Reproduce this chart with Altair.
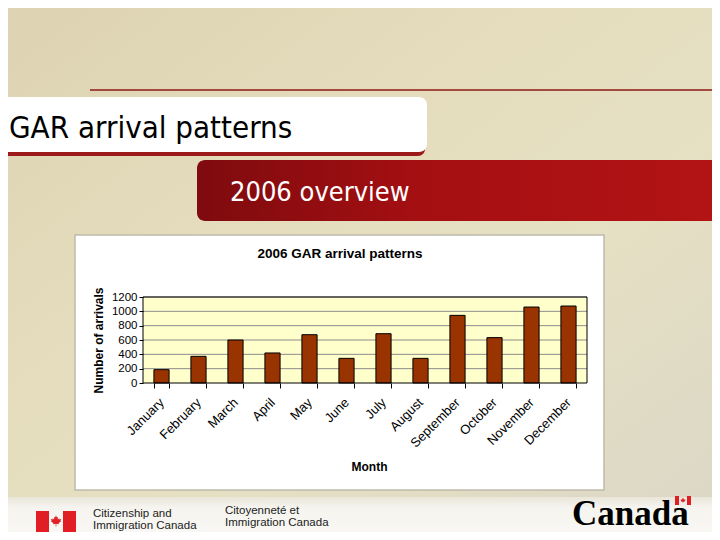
import altair as alt
import pandas as pd

months = ["January", "February", "March", "April", "May", "June", "July",
          "August", "September", "October", "November", "December"]
arrivals = [186, 372, 600, 419, 674, 344, 688, 344, 944, 633, 1060, 1074]
y_ticks = [0, 200, 400, 600, 800, 1000, 1200]

slide_title = "GAR arrival patterns"
slide_subtitle = "2006 overview"
chart_title = "2006 GAR arrival patterns"
y_title = "Number of arrivals"
x_title = "Month"
footer_en = ["Citizenship and", "Immigration Canada"]
footer_fr = ["Citoyenneté et", "Immigration Canada"]
wordmark = "Canada"

df = pd.DataFrame({"Month": months, "Arrivals": arrivals})
grid_df = pd.DataFrame({"Arrivals": y_ticks[1:]})
one = pd.DataFrame({"a": [0]})

W, H = 444, 86
SANS = "Liberation Sans, Arial, sans-serif"
NARROW = "Liberation Sans Narrow, Liberation Sans, Arial, sans-serif"
TAHOMA = "DejaVu Sans Condensed, DejaVu Sans, sans-serif"


def box(x, x2, y, y2, **kw):
    return alt.Chart(one).mark_rect(**kw).encode(
        x=alt.value(x), x2=alt.value(x2), y=alt.value(y), y2=alt.value(y2))


def label(txt, x, y, **kw):
    return alt.Chart(one).mark_text(text=txt, **kw).encode(
        x=alt.value(x), y=alt.value(y))


bg_grad = alt.LinearGradient(
    gradient="linear", x1=0, y1=0, x2=1, y2=1,
    stops=[alt.GradientStop(color="#DDD3B2", offset=0),
           alt.GradientStop(color="#E4DCBC", offset=0.35),
           alt.GradientStop(color="#E6E0C3", offset=0.6),
           alt.GradientStop(color="#DCD7C6", offset=1)])
red_grad = alt.LinearGradient(
    gradient="linear", x1=0, y1=0, x2=1, y2=0,
    stops=[alt.GradientStop(color="#7E0B0E", offset=0),
           alt.GradientStop(color="#A50F12", offset=0.4),
           alt.GradientStop(color="#B51414", offset=1)])
foot_grad = alt.LinearGradient(
    gradient="linear", x1=0, y1=0, x2=0, y2=1,
    stops=[alt.GradientStop(color="#E9E5D8", offset=0),
           alt.GradientStop(color="#F5F4EF", offset=0.3),
           alt.GradientStop(color="#F8F7F3", offset=1)])

background = box(-135, 569, -289, 235, color=bg_grad)
footer_strip = box(-135, 569, 200, 235, color=foot_grad)
top_line = alt.Chart(one).mark_rule(color="#8E1A16", strokeWidth=1.5).encode(
    x=alt.value(-53), x2=alt.value(569), y=alt.value(-207))
header_shadow = box(-160, 282, -197, -141, color="#9C1A1A", cornerRadius=7)
header_box = box(-160, 284, -200, -145, color="#FFFFFF", cornerRadius=8)
header_text = label(slide_title, -134, -159, align="left", baseline="alphabetic",
                    font=TAHOMA, fontSize=31, color="#000000")
banner = box(54, 620, -137, -76, color=red_grad, cornerRadius=8)
banner_text = label(slide_subtitle, 87, -96, align="left", baseline="alphabetic",
                    font=TAHOMA, fontSize=27, color="#FFFFFF")

panel = box(-68, 461, -62, 193, color="#FFFFFF", stroke="#BFBBAA", strokeWidth=1.5)
title_text = label(chart_title, 197, -43, align="center", baseline="middle",
                   font=SANS, fontSize=13.5, fontWeight="bold", color="#000000")
plot_bg = box(0, W, 0, H, color="#FFFFCC")

y_scale = alt.Scale(domain=[0, 1200], nice=False, zero=True)
y_axis = alt.Axis(title=y_title, values=y_ticks, format="d", grid=False,
                  domain=False, labelOverlap=False, labelFlush=False,
                  labelBound=False,
                  tickSize=4, tickColor="#000000", labelPadding=2,
                  labelFont=SANS, labelFontSize=11.5, labelColor="#000000",
                  labelBaseline="middle",
                  zindex=1, titleFont=SANS, titleFontSize=12,
                  titleFontWeight="bold", titleColor="#000000",
                  titleX=-45, titleY=43, titleAngle=270,
                  titleBaseline="middle", titleAlign="center")

grid = alt.Chart(grid_df).mark_rule(color="#8C8C8C", strokeWidth=1).encode(
    y=alt.Y("Arrivals:Q", scale=y_scale, axis=y_axis),
    x=alt.value(0), x2=alt.value(W))

bars = alt.Chart(df).mark_bar(color="#993300", stroke="#000000", strokeWidth=1).encode(
    x=alt.X("Month:N", sort=months,
            scale=alt.Scale(paddingInner=0.59, paddingOuter=0.295),
            axis=alt.Axis(title=x_title, labelAngle=315, labelAlign="right",
                          labelBaseline="middle", labelPadding=12,
                          labelFont=SANS, labelFontSize=13, labelColor="#000000",
                          labelOverlap=False,
                          tickBand="extent", tickSize=5, tickColor="#000000",
                          domain=False, zindex=1,
                          titleFont=SANS, titleFontSize=12, titleFontWeight="bold",
                          titleColor="#000000", titleX=226, titleY=83,
                          titleBaseline="middle", titleAlign="center")),
    y=alt.Y("Arrivals:Q", scale=y_scale, axis=y_axis),
)
frame = box(0, W, 0, H, fillOpacity=0, fill="#FFFFFF", stroke="#000000", strokeWidth=1)

# footer: flag
leaf = ("M0,-1 L0.15,-0.62 L0.35,-0.72 L0.3,-0.25 L0.6,-0.5 L0.58,-0.28 L0.92,-0.35 "
        "L0.78,-0.05 L0.88,0.05 L0.45,0.38 L0.52,0.55 L0.06,0.48 L0.06,0.95 L-0.06,0.95 "
        "L-0.06,0.48 L-0.52,0.55 L-0.45,0.38 L-0.88,0.05 L-0.78,-0.05 L-0.92,-0.35 "
        "L-0.58,-0.28 L-0.6,-0.5 L-0.3,-0.25 L-0.35,-0.72 L-0.15,-0.62 Z")
flag_l = box(-107, -94, 214, 235, color="#E01E24")
flag_r = box(-80, -67, 214, 235, color="#E01E24")
flag_leaf = alt.Chart(one).mark_point(shape=leaf, filled=True, color="#E01E24",
                                      size=130, opacity=1).encode(
    x=alt.value(-87), y=alt.value(224))

f1 = label(footer_en[0], -50, 220, align="left", baseline="alphabetic",
           font=NARROW, fontSize=11.5, color="#222222")
f2 = label(footer_en[1], -50, 232, align="left", baseline="alphabetic",
           font=NARROW, fontSize=11.5, color="#222222")
f3 = label(footer_fr[0], 82, 217, align="left", baseline="alphabetic",
           font=NARROW, fontSize=11.5, color="#222222")
f4 = label(footer_fr[1], 82, 229, align="left", baseline="alphabetic",
           font=NARROW, fontSize=11.5, color="#222222")
canada = label(wordmark, 429, 228, align="left", baseline="alphabetic",
               font="Liberation Serif, Times New Roman, serif", fontSize=35,
               fontWeight="bold", color="#000000")
mini_l = box(532, 536, 199, 208, color="#E01E24")
mini_r = box(544, 548, 199, 208, color="#E01E24")
mini_leaf = alt.Chart(one).mark_point(shape=leaf, filled=True, color="#E01E24",
                                      size=28, opacity=1).encode(
    x=alt.value(540), y=alt.value(203.5))

chart = alt.layer(
    background, footer_strip, top_line, header_shadow, header_box, header_text,
    banner, banner_text, panel, title_text, plot_bg, grid, bars, frame,
    flag_l, flag_r, flag_leaf, f1, f2, f3, f4, canada, mini_l, mini_r, mini_leaf,
).properties(
    width=W, height=H,
    padding={"left": 135, "top": 289, "right": 125, "bottom": 149},
    autosize=alt.AutoSizeParams(type="none"),
).configure_view(stroke=None)

chart.save("out.html", embed_options={"renderer": "svg", "actions": False})
